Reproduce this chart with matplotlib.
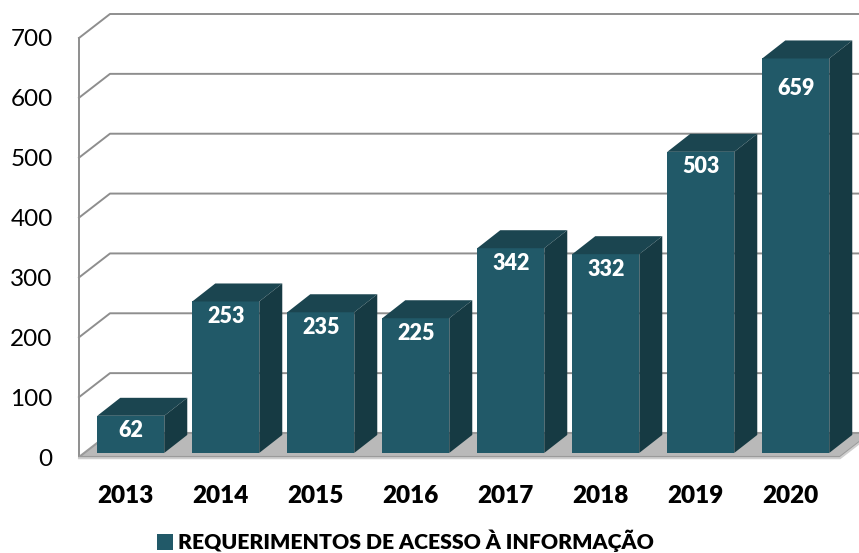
import matplotlib
matplotlib.use("Agg")
import matplotlib.pyplot as plt
from matplotlib.patches import Polygon, Rectangle
from matplotlib.lines import Line2D

# ---- data ----
years = ["2013", "2014", "2015", "2016", "2017", "2018", "2019", "2020"]
values = [62, 253, 235, 225, 342, 332, 503, 659]
yticks = [0, 100, 200, 300, 400, 500, 600, 700]
legend_label = "REQUERIMENTOS DE ACESSO À INFORMAÇÃO"

FONT = ["Lato", "DejaVu Sans"]
plt.rcParams['font.family'] = FONT
BOLD = "heavy"

W_PX, H_PX = 859, 553
fig = plt.figure(figsize=(W_PX / 100, H_PX / 100), dpi=100)

# front plane geometry (pixels)
px_per_cat = 95.0
cat0_px = 125.5
left_px, right_px = 79, 840
bottom_px, top_px = 457, 38  # from top
px_per_val = (bottom_px - top_px) / 700.0

xmin = (left_px - cat0_px) / px_per_cat
xmax = (right_px - cat0_px) / px_per_cat
ax = fig.add_axes([left_px / W_PX, (H_PX - bottom_px) / H_PX,
                   (right_px - left_px) / W_PX, (bottom_px - top_px) / H_PX])
ax.set_xlim(xmin, xmax)
ax.set_ylim(0, 700)
for s in ax.spines.values():
    s.set_visible(False)

# depth of the whole box (back wall offset)
DX = 31 / px_per_cat
DY = 24 / px_per_val
# bar depth placement
t0 = 0.17
bdx = 23 / px_per_cat
bdy = 18 / px_per_val
bar_w = 67 / px_per_cat

grid_c = "#8e8e8e"
for v in yticks[1:]:
    ax.add_line(Line2D([xmin, xmin + DX, xmax + DX + 1], [v, v + DY, v + DY],
                       color=grid_c, lw=1.4, clip_on=False, zorder=1))
ax.add_line(Line2D([xmin, xmin], [0, yticks[-1]], color=grid_c, lw=1.4,
                   clip_on=False, zorder=1))

# floor slab
floor = Polygon([(xmin, 0), (xmax, 0), (xmax + DX, DY), (xmin + DX, DY)],
                closed=True, facecolor="#b9b9b9", edgecolor="#9a9a9a",
                lw=1.5, clip_on=False, zorder=2)
ax.add_patch(floor)
ax.add_line(Line2D([xmin, xmax, xmax + DX], [-2, -2, DY - 2], color="#cfcfcf",
                   lw=1.5, clip_on=False, zorder=2))

front_c = "#215968"
top_c = "#1b4550"
side_c = "#163a43"

# labels stay inside the plot area: their centre never rises above this value
label_ceiling = 616

xs = [i + t0 * DX for i in range(len(values))]
base = t0 * DY
bars = ax.bar(xs, values, width=bar_w, bottom=base, color=front_c,
              zorder=3, clip_on=False)
for b, v in zip(bars, values):
    xl = b.get_x()
    xr = xl + b.get_width()
    top = base + v
    ax.add_patch(Polygon([(xl, top), (xr, top), (xr + bdx, top + bdy),
                          (xl + bdx, top + bdy)], closed=True,
                         facecolor=top_c, edgecolor="none", zorder=3,
                         clip_on=False))
    ax.add_patch(Polygon([(xr, base), (xr + bdx, base + bdy),
                          (xr + bdx, top + bdy), (xr, top)], closed=True,
                         facecolor=side_c, edgecolor="none", zorder=3,
                         clip_on=False))
    ly = min(top - 15 / px_per_val, label_ceiling)
    ax.text((xl + xr) / 2, ly, str(v), ha="center", va="center",
            color="white", fontsize=15.5, fontweight=BOLD, zorder=4,
            clip_on=False)

ax.set_yticks(yticks)
ax.set_yticklabels([str(t) for t in yticks], fontsize=17.5)
ax.tick_params(axis="y", length=0, pad=19)
ax.set_xticks(range(len(years)))
ax.set_xticklabels(years, fontsize=17.5, fontweight=BOLD)
ax.tick_params(axis="x", length=0, pad=20)

handle = Rectangle((0, 0), 1, 1, facecolor=front_c)
leg = fig.legend([handle], [legend_label], loc="center",
                 bbox_to_anchor=(405.5 / W_PX, 12 / H_PX), frameon=False,
                 prop={"family": FONT, "weight": BOLD, "size": 15.3},
                 handlelength=0.75, handleheight=0.75, handletextpad=0.25,
                 borderpad=0)

fig.savefig("out.png", dpi=100)
